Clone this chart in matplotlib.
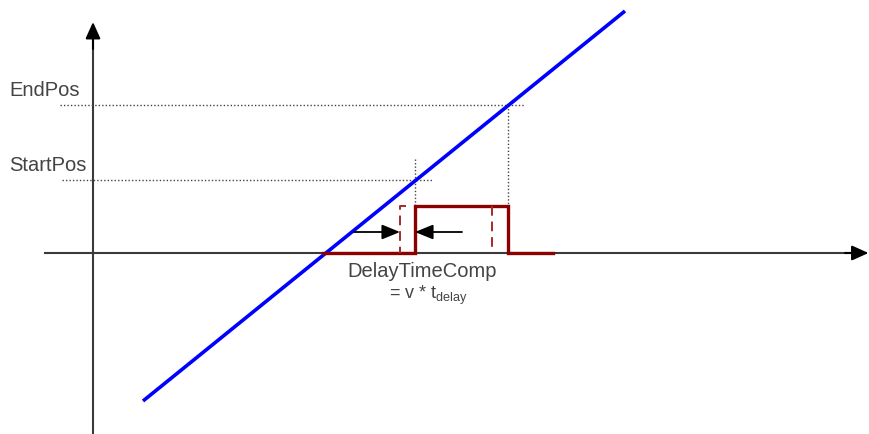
import matplotlib
matplotlib.use("Agg")
import matplotlib.pyplot as plt

plt.rcParams['font.family'] = ['Liberation Sans', 'DejaVu Sans']

# Geometry in pixel-like units of the reference (y downwards)
x_axis_x = [45, 855]
x_axis_y = [254, 254]
y_axis_x = [93, 93]
y_axis_y = [435, 36]

position_x = [143, 625]
position_y = [402, 12]

endpos_h_x = [60, 525]
endpos_h_y = [106, 106]
endpos_v_x = [508, 508]
endpos_v_y = [106, 207]

startpos_h_x = [62, 432]
startpos_h_y = [181, 181]
startpos_v_x = [415, 415]
startpos_v_y = [160, 207]

signal_x = [323, 415, 415, 508, 508, 553]
signal_y = [254, 254, 207, 207, 254, 254]

comp_rise_x = [406, 400, 400]
comp_rise_y = [207, 207, 254]
comp_fall_x = [492, 492]
comp_fall_y = [207, 254]

arrow_right = [(354, 233), (400, 233)]
arrow_left = [(462, 233), (415, 233)]

labels = ["EndPos", "StartPos"]
label_y = [91, 166]

fig = plt.figure(figsize=(8.69, 4.35), dpi=100)
ax = fig.add_axes([0, 0, 1, 1])
ax.set_xlim(0, 869)
ax.set_ylim(435, 0)
ax.axis('off')

axis_col = '#3a3a3a'
ax.plot(x_axis_x, x_axis_y, color=axis_col, lw=1.5)
ax.plot(y_axis_x, y_axis_y, color=axis_col, lw=1.5)
ax.annotate('', xy=(868.5, 254), xytext=(845, 254), annotation_clip=False,
            arrowprops=dict(arrowstyle='-|>,head_length=1.0,head_width=0.45', color='black', lw=1.5,
                            shrinkA=0, shrinkB=0))
ax.annotate('', xy=(93, 23), xytext=(93, 50), annotation_clip=False,
            arrowprops=dict(arrowstyle='-|>,head_length=1.0,head_width=0.45', color='black', lw=1.5,
                            shrinkA=0, shrinkB=0))

dot_style = dict(color='#444444', lw=1.0, linestyle=(0, (1, 1.5)))
ax.plot(endpos_h_x, endpos_h_y, **dot_style)
ax.plot(endpos_v_x, endpos_v_y, **dot_style)
ax.plot(startpos_h_x, startpos_h_y, **dot_style)
ax.plot(startpos_v_x, startpos_v_y, **dot_style)

ax.plot(position_x, position_y, color='#0000ff', lw=2.6, solid_capstyle='butt')

red = '#8b0000'
ax.plot(signal_x, signal_y, color=red, lw=2.4, solid_joinstyle='miter')
ax.plot(comp_rise_x, comp_rise_y, color='#a52a2a', lw=1.4, linestyle=(0, (5, 3)))
ax.plot(comp_fall_x, comp_fall_y, color='#a52a2a', lw=1.4, linestyle=(0, (5, 3)))

for (start, end) in (arrow_right, arrow_left):
    ax.annotate('', xy=end, xytext=start,
                arrowprops=dict(arrowstyle='-|>,head_length=1.1,head_width=0.45',
                                color='black', lw=1.3, shrinkA=0, shrinkB=0))

text_col = '#444444'
for lab, ly in zip(labels, label_y):
    ax.text(9, ly, lab, fontsize=14.5, color=text_col, va='center', ha='left')

ax.text(422, 272, "DelayTimeComp", fontsize=14.5, color=text_col, va='center', ha='center')
ax.text(428, 295, r"= v * t$_{\mathregular{delay}}$", fontsize=13, color=text_col,
        va='center', ha='center')

fig.savefig('out.png', dpi=100)
